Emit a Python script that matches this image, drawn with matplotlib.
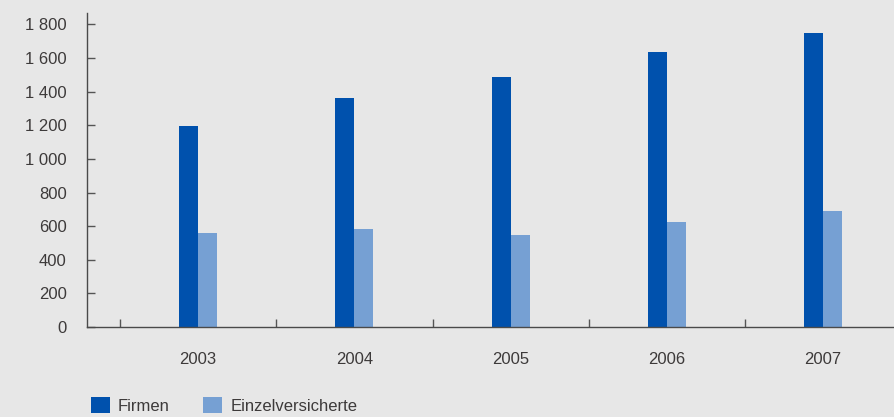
import numpy as np
import matplotlib
matplotlib.use("Agg")
import matplotlib.pyplot as plt
from matplotlib.ticker import FuncFormatter

years = ["2003", "2004", "2005", "2006", "2007"]
firmen = [1195, 1361, 1485, 1634, 1747]
einzel = [558, 582, 547, 624, 689]

plt.rcParams['font.family'] = ['Liberation Sans', 'DejaVu Sans']
txt = "#3d3a3a"
bg = "#e7e7e7"
fs = 12

fig = plt.figure(figsize=(8.94, 4.17), dpi=100, facecolor=bg)
ax = fig.add_axes([87/894, 90/417, 1 - 87/894, (327-13)/417])
ax.set_facecolor(bg)

x = np.arange(len(years))
w = 19/156
b1 = ax.bar(x - w/2, firmen, w, color="#0051ad", label="Firmen")
b2 = ax.bar(x + w/2, einzel, w, color="#76a0d3", label="Einzelversicherte")

ax.set_yticks(range(0, 1801, 200))
ax.yaxis.set_major_formatter(FuncFormatter(lambda v, p: f"{int(v):,}".replace(",", " ")))
ax.set_xticks(x)
ax.set_xticklabels(years)
ax.set_xticks(np.arange(-0.5, 4.0, 1), minor=True)
ax.set_xlim(-0.5 - 33/156.25, -0.5 + (894 - 120)/156.25)
ax.set_ylim(0, 1868)
ax.tick_params(axis='x', which='major', length=0, pad=18, labelsize=fs, labelcolor=txt)
ax.tick_params(axis='x', which='minor', direction='in', length=6, color="#555555", width=1)
ax.tick_params(axis='y', direction='in', length=6, color="#555555", width=1, pad=14.5, labelsize=fs, labelcolor=txt)

for s in ['top', 'right']:
    ax.spines[s].set_visible(False)
for s in ['left', 'bottom']:
    ax.spines[s].set_color("#4a4a4a")
    ax.spines[s].set_linewidth(1.0)

fig.legend(handles=[b1, b2], loc='upper left', bbox_to_anchor=(91/894, 1 - 397/417),
           ncol=2, frameon=False, borderpad=0, borderaxespad=0,
           handlelength=1.14, handleheight=1.14, handletextpad=0.48, columnspacing=2.0,
           fontsize=fs, labelcolor=txt)

fig.savefig("out.png", dpi=100, facecolor=bg)
